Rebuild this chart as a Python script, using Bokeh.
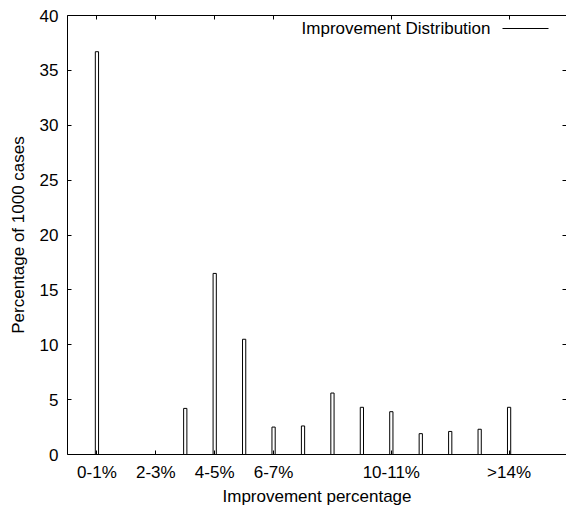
from bokeh.plotting import figure
from bokeh.models import (Range1d, FixedTicker, LinearAxis, Label, Arrow, ColumnDataSource,
                          CustomJSTickFormatter)
from bokeh.embed import file_html
from bokeh.resources import INLINE

categories = ["0-1%", "1-2%", "2-3%", "3-4%", "4-5%", "5-6%", "6-7%", "7-8%",
              "8-9%", "9-10%", "10-11%", "11-12%", "12-13%", "13-14%", ">14%"]
percentages = [36.7, 0.0, 0.0, 4.2, 16.5, 10.5, 2.5, 2.6, 5.6, 4.3, 3.9, 1.9, 2.1, 2.3, 4.3]
tick_labels = ["0-1%", "2-3%", "4-5%", "6-7%", "10-11%", ">14%"]
y_ticks = [0, 5, 10, 15, 20, 25, 30, 35, 40]
series_name = "Improvement Distribution"

positions = list(range(len(categories)))
tick_positions = [categories.index(t) for t in tick_labels]

FONT = "Liberation Sans"
FS = "17px"

p = figure(width=566, height=508, output_backend="svg", toolbar_location=None,
           x_range=Range1d(-1.0, 15.95), y_range=Range1d(0, 40),
           min_border_left=67, min_border_right=0, min_border_top=15, min_border_bottom=52,
           x_axis_label="Improvement percentage", y_axis_label="Percentage of 1000 cases")
p.outline_line_color = None
p.xgrid.visible = False
p.ygrid.visible = False
p.background_fill_color = "white"
p.border_fill_color = "white"

src = ColumnDataSource(data=dict(x=positions, top=percentages, cat=categories))
p.vbar(x="x", top="top", width=0.11, bottom=0, source=src,
       fill_color="white", line_color="black", line_width=1)

xt = FixedTicker(ticks=tick_positions)
yt = FixedTicker(ticks=y_ticks)

xa = p.xaxis[0]
xa.ticker = xt
xa.major_label_overrides = {pos: lab for pos, lab in zip(tick_positions, tick_labels)}
ya = p.yaxis[0]
ya.ticker = yt

for ax in (xa, ya):
    ax.major_tick_in = 4
    ax.major_tick_out = 0
    ax.minor_tick_in = 0
    ax.minor_tick_out = 0
    ax.axis_line_color = "black"
    ax.major_tick_line_color = "black"
    ax.major_label_text_font = FONT
    ax.major_label_text_font_size = FS
    ax.major_label_text_color = "black"
    ax.axis_label_text_font = FONT
    ax.axis_label_text_font_size = FS
    ax.axis_label_text_font_style = "normal"
    ax.axis_label_text_color = "black"

xa.major_label_standoff = 8
xa.axis_label_standoff = 2
ya.major_label_standoff = 9
ya.axis_label_standoff = 9

blank = CustomJSTickFormatter(code="return '';")
top_ax = LinearAxis(ticker=xt, formatter=blank, major_tick_in=4, major_tick_out=0,
                    minor_tick_in=0, minor_tick_out=0, major_label_standoff=0,
                    axis_line_color="black")
p.add_layout(top_ax, "above")
right_ax = LinearAxis(ticker=yt, formatter=blank, major_tick_in=4, major_tick_out=0,
                      minor_tick_in=0, minor_tick_out=0, major_label_standoff=0,
                      axis_line_color=None)
p.add_layout(right_ax, "right")

# gnuplot-style key: text followed by a line sample, top right (frame-relative screen units)
p.add_layout(Label(x=423, y=426, x_units="screen", y_units="screen", text=series_name,
                   text_align="right", text_baseline="middle", text_font=FONT,
                   text_font_size=FS, text_color="black"))
p.add_layout(Arrow(x_start=435, y_start=426, x_end=481, y_end=426,
                   start_units="screen", end_units="screen", start=None, end=None,
                   line_color="black", line_width=1))

open("out.html", "w").write(file_html(p, INLINE))
